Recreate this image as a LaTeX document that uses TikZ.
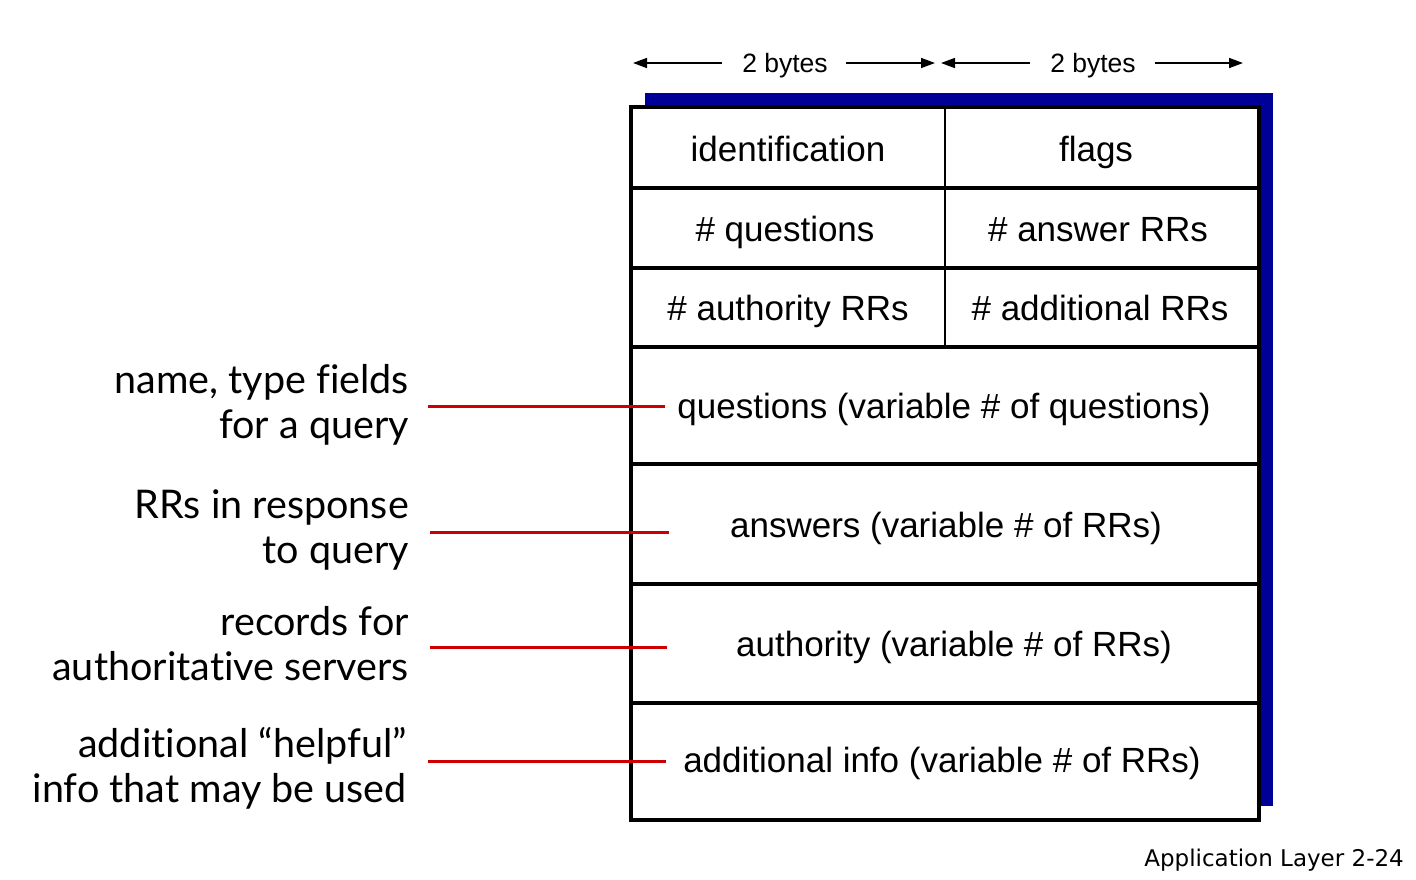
\documentclass[tikz,border=0pt]{standalone}
\usepackage{fontspec}
\setmainfont{Liberation Sans}
\newfontfamily\labfont[Ligatures={NoCommon}]{Lato}
\newfontfamily\footfont{DejaVu Sans}
\usetikzlibrary{arrows.meta}
\definecolor{shadowblue}{RGB}{0,0,153}
\definecolor{linered}{RGB}{204,0,0}
\begin{document}
\begin{tikzpicture}[x=1pt,y=-1pt,
 cell/.style={font=\fontsize{35}{40}\selectfont, inner sep=0, anchor=base},
 lab/.style={font=\labfont\fontsize{39.5}{45}\selectfont, align=right, anchor=east, inner sep=0},
 bytes/.style={font=\fontsize{26.5}{30}\selectfont, inner sep=0, anchor=base},
 dimarrow/.style={line width=1.6pt, -{Triangle[length=14pt,width=10pt]}},
 redline/.style={linered, line width=3pt},
 frame/.style={line width=4pt},
 divider/.style={line width=2pt}]
\useasboundingbox (0,0) rectangle (1416,879);
% shadow
\fill[shadowblue] (645,93) rectangle (1273,806);
\fill[white] (631,107) rectangle (1259,820);
% frame
\draw[frame] (631,107) rectangle (1259,820);
\foreach \yy in {188,268,347,464,584,703} \draw[frame] (631,\yy) -- (1259,\yy);
\draw[divider] (945,107) -- (945,347);
% cell texts
\node[cell] (ident) at (788,161) {identification};
\node[cell] (flags) at (1096,161) {flags};
\node[cell] (nq) at (785,241) {\# questions};
\node[cell] (nans) at (1098,241) {\# answer RRs};
\node[cell] (nauth) at (788,320) {\# authority RRs};
\node[cell] (nadd) at (1100,320) {\# additional RRs};
\node[cell] (qs) at (944,418) {questions (variable \# of questions)};
\node[cell] (ans) at (946,537) {answers (variable \# of RRs)};
\node[cell] (auth) at (954,656) {authority (variable \# of RRs)};
\node[cell] (addi) at (942,772) {additional info (variable \# of RRs)};
% top dimension arrows
\node[bytes] (b1) at (785,72) {2 bytes};
\node[bytes] (b2) at (1093,72) {2 bytes};
\coordinate (a1l) at (633,63);
\coordinate (a1r) at (935,63);
\coordinate (a2l) at (941,63);
\coordinate (a2r) at (1243,63);
\draw[dimarrow] (722,63) -- (a1l);
\draw[dimarrow] (846,63) -- (a1r);
\draw[dimarrow] (1030,63) -- (a2l);
\draw[dimarrow] (1155,63) -- (a2r);
% left labels
\node[lab] (l1) at (409,405) {name, type fields\\for a query};
\node[lab] (l2) at (409,530) {RRs in response\\to query};
\node[lab] (l3) at (409,644) {records for\\authoritative servers};
\node[lab] (l4) at (407,768) {additional “helpful”\\info that may be used};
\coordinate (r1) at (665,406);
\coordinate (r2) at (669,532);
\coordinate (r3) at (667,647);
\coordinate (r4) at (666,761);
\draw[redline] ([xshift=19pt]l1.east |- r1) -- (r1);
\draw[redline] ([xshift=21pt]l2.east |- r2) -- (r2);
\draw[redline] ([xshift=21pt]l3.east |- r3) -- (r3);
\draw[redline] ([xshift=21pt]l4.east |- r4) -- (r4);
% footer
\node[font=\footfont\fontsize{23}{26}\selectfont, inner sep=0, anchor=base east] (foot) at (1404,866) {Application Layer 2-24};
\end{tikzpicture}
\end{document}
